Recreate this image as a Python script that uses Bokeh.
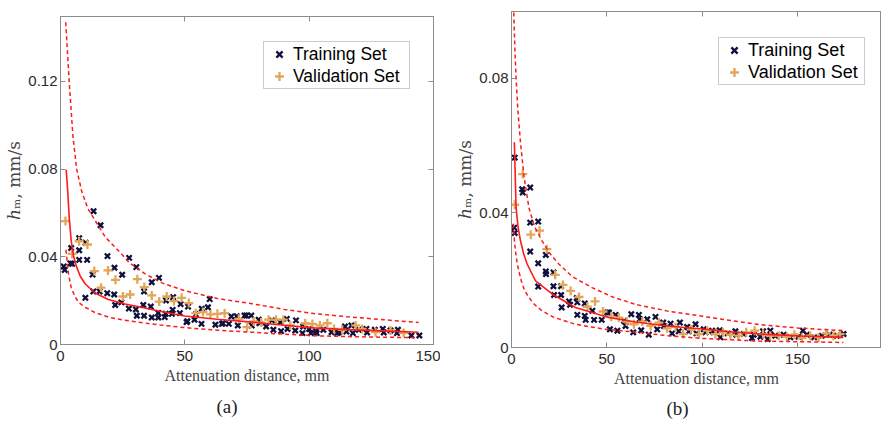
from bokeh.plotting import figure
from bokeh.layouts import row, column
from bokeh.models import LinearAxis, FixedTicker, Range1d, Legend, LegendItem, Title
from bokeh.embed import file_html
from bokeh.resources import INLINE

# ---------------- Panel (a) data ----------------
a_train_x = [1.3, 1.7, 4.3, 4.7, 4.0, 7.5, 7.5, 7.5, 10.1, 10.7, 10.0, 13.3, 12.9, 13.2, 16.1, 15.7,
             18.9, 18.8, 21.7, 21.6, 22.0, 24.8, 24.5, 27.6, 27.5, 30.5, 30.3, 30.7, 33.6, 33.3, 33.6,
             36.7, 36.3, 36.7, 39.6, 39.3, 39.3, 42.4, 42.3, 41.9, 45.3, 45.1, 44.8, 48.3, 48.0, 50.7,
             51.0, 51.3, 53.9, 54.4, 56.8, 56.7, 59.3, 60.0, 62.3, 64.9, 65.3, 67.7, 68.7, 70.9, 71.3,
             74.0, 74.7, 76.7, 76.9, 79.7, 80.0, 82.7, 85.0, 85.6, 88.4, 88.7, 91.0, 91.3, 94.7, 94.4,
             97.3, 97.6, 100.0, 100.7, 102.7, 103.0, 105.7, 109.0, 111.3, 112.0, 114.4, 115.0, 117.6,
             117.0, 120.0, 123.0, 123.3, 126.4, 129.6, 130.0, 132.7, 135.7, 135.3, 141.1, 144.3]
a_train_y = [0.0356, 0.034, 0.044, 0.0368, 0.037, 0.0485, 0.043, 0.0386, 0.0464, 0.0386, 0.0213,
             0.0608, 0.0319, 0.0242, 0.0544, 0.0242, 0.0403, 0.0234, 0.035, 0.0228, 0.018, 0.0318,
             0.0192, 0.0395, 0.0164, 0.0353, 0.016, 0.0131, 0.0242, 0.018, 0.0131, 0.0284, 0.0173,
             0.0123, 0.0304, 0.0144, 0.0123, 0.0201, 0.014, 0.0125, 0.0216, 0.0158, 0.014, 0.0184,
             0.0143, 0.0102, 0.0106, 0.0173, 0.0113, 0.0137, 0.0163, 0.0094, 0.017, 0.0207, 0.009,
             0.0094, 0.0097, 0.0094, 0.0128, 0.0129, 0.0087, 0.0132, 0.0132, 0.0132, 0.0087, 0.0113,
             0.0097, 0.0082, 0.011, 0.0067, 0.0102, 0.0061, 0.0117, 0.0071, 0.011, 0.0064, 0.0052,
             0.0082, 0.0071, 0.0052, 0.0061, 0.0052, 0.0067, 0.0056, 0.0052, 0.0056, 0.0082, 0.0059,
             0.0052, 0.0087, 0.0067, 0.0071, 0.0055, 0.0067, 0.0071, 0.0055, 0.0064, 0.0067, 0.0052,
             0.0041, 0.0041]
a_val_x = [2.0, 4.7, 7.5, 10.8, 13.6, 16.3, 19.1, 22.1, 25.1, 28.0, 30.9, 33.7, 36.7, 39.7, 42.7,
           45.6, 48.7, 51.6, 54.4, 57.3, 60.3, 63.1, 66.0, 71.7, 75.0, 77.7, 80.7, 83.7, 86.7, 89.6,
           92.4, 98.4, 101.3, 104.3, 107.3, 110.0, 113.3, 118.7, 121.3, 126.7, 132.7, 138.0]
a_val_y = [0.0563, 0.0414, 0.0471, 0.0456, 0.0335, 0.0259, 0.0338, 0.0295, 0.0219, 0.0228, 0.0298,
           0.0262, 0.0224, 0.0196, 0.0219, 0.0198, 0.0213, 0.0189, 0.0143, 0.0148, 0.0137, 0.014,
           0.0143, 0.0117, 0.0079, 0.0105, 0.01, 0.0113, 0.0113, 0.0113, 0.0087, 0.0097, 0.0094,
           0.0087, 0.0097, 0.0071, 0.0067, 0.0087, 0.0071, 0.0056, 0.0064, 0.0052]
a_fit_x = [2.3, 2.9, 3.5, 4.3, 5.3, 6.5, 8.0, 9.9, 13.9, 19.2, 26.0, 32.5, 40.0, 50.0, 63.0, 77.0,
           90.0, 102.0, 115.0, 130.0, 144.0]
a_fit_y = [0.0797, 0.070, 0.058, 0.0474, 0.040, 0.0353, 0.031, 0.0277, 0.0235, 0.0205, 0.0185,
           0.0170, 0.0152, 0.0130, 0.0115, 0.0102, 0.0088, 0.0076, 0.0068, 0.0062, 0.0056]
a_up_x = [2.1, 3.5, 5.0, 6.5, 8.5, 11.0, 13.9, 18.0, 23.2, 28.0, 33.9, 41.0, 50.0, 63.0, 77.0, 90.0,
          102.0, 115.0, 130.0, 144.0]
a_up_y = [0.147, 0.1197, 0.095, 0.080, 0.070, 0.062, 0.0566, 0.049, 0.0429, 0.037, 0.0323, 0.028,
          0.0245, 0.021, 0.0186, 0.016, 0.0141, 0.0127, 0.0113, 0.010]
a_lo_x = [2.2, 3.2, 4.3, 5.9, 7.5, 9.9, 14.0, 19.2, 25.0, 32.5, 40.0, 50.0, 63.0, 77.0, 90.0, 102.0,
          120.0, 144.0]
a_lo_y = [0.0432, 0.0323, 0.026, 0.0216, 0.019, 0.017, 0.0145, 0.0125, 0.0112, 0.0100, 0.0089,
          0.0077, 0.0065, 0.0056, 0.0047, 0.0040, 0.0035, 0.0031]

# ---------------- Panel (b) data ----------------
b_train_x = [1.7, 1.4, 1.7, 5.6, 5.9, 9.8, 9.8, 9.8, 14.0, 14.0, 14.0, 18.0, 18.0, 18.1, 22.0, 22.0,
             22.3, 26.0, 26.0, 26.3, 30.2, 30.7, 34.2, 34.5, 34.5, 38.4, 38.4, 38.9, 42.4, 43.3, 47.3,
             50.2, 51.1, 51.6, 54.6, 55.5, 59.0, 59.8, 62.8, 63.8, 66.8, 67.3, 68.0, 71.2, 72.0, 75.5,
             76.4, 79.5, 79.9, 83.4, 84.2, 88.3, 87.7, 92.1, 93.0, 96.5, 97.0, 100.8, 101.7, 105.2,
             106.0, 109.2, 109.5, 113.4, 117.4, 117.9, 121.8, 126.1, 127.0, 130.5, 131.9, 134.3,
             135.7, 138.3, 142.7, 146.2, 150.5, 152.8, 154.9, 158.7, 162.7, 166.8, 170.6, 174.1]
b_train_y = [0.0564, 0.0356, 0.034, 0.047, 0.046, 0.0475, 0.0371, 0.0285, 0.0374, 0.025, 0.0181,
             0.0275, 0.0226, 0.0218, 0.0223, 0.0182, 0.0156, 0.0182, 0.0156, 0.0119, 0.0137, 0.0127,
             0.0147, 0.0134, 0.0097, 0.0131, 0.0094, 0.0082, 0.0109, 0.0082, 0.0082, 0.0104, 0.0104,
             0.0054, 0.0097, 0.005, 0.0079, 0.0064, 0.0099, 0.0045, 0.0097, 0.0084, 0.0051, 0.0084,
             0.0038, 0.0091, 0.0054, 0.0074, 0.0064, 0.0071, 0.0042, 0.0074, 0.0048, 0.0061, 0.0048,
             0.0069, 0.0042, 0.0054, 0.0045, 0.005, 0.0045, 0.0051, 0.003, 0.0042, 0.0048, 0.0038,
             0.004, 0.0028, 0.0038, 0.0032, 0.0048, 0.0025, 0.005, 0.0035, 0.0038, 0.003, 0.0032,
             0.005, 0.0038, 0.003, 0.0035, 0.0038, 0.0035, 0.004]
b_val_x = [1.7, 5.9, 10.1, 14.7, 18.5, 22.9, 27.0, 31.0, 35.4, 39.8, 43.8, 48.0, 52.3, 56.3, 60.4,
           64.2, 68.6, 73.0, 77.3, 81.6, 86.0, 90.0, 94.2, 98.2, 102.6, 106.9, 110.9, 114.8, 119.1,
           123.1, 127.5, 131.9, 135.7, 140.1, 144.4, 148.3, 152.3, 156.6, 161.0, 165.0, 168.8, 172.3]
b_val_y = [0.0424, 0.0515, 0.0335, 0.0347, 0.0292, 0.0216, 0.0186, 0.0168, 0.015, 0.0121, 0.0137,
           0.0107, 0.0091, 0.0089, 0.0077, 0.0069, 0.0077, 0.0064, 0.0074, 0.0057, 0.0061, 0.004,
           0.0054, 0.004, 0.005, 0.004, 0.0045, 0.0038, 0.0035, 0.0045, 0.005, 0.004, 0.0035,
           0.0035, 0.0032, 0.0038, 0.0028, 0.0035, 0.003, 0.0042, 0.0035, 0.004]
b_fit_x = [1.5, 2.0, 2.4, 3.4, 4.7, 6.3, 8.2, 12.6, 21.3, 33.5, 50.9, 65.8, 82.0, 100.0, 116.0,
           133.0, 152.0, 174.0]
b_fit_y = [0.061, 0.050, 0.0416, 0.036, 0.0317, 0.028, 0.0248, 0.0198, 0.0159, 0.0119, 0.0089,
           0.0075, 0.0064, 0.0055, 0.0046, 0.0039, 0.0034, 0.0030]
b_up_x = [1.2, 1.7, 2.4, 3.4, 4.7, 6.5, 9.1, 12.0, 16.0, 20.0, 24.8, 32.0, 42.2, 53.0, 65.8, 82.0,
          100.0, 115.0, 130.0, 150.0, 174.0]
b_up_y = [0.0995, 0.090, 0.080, 0.070, 0.061, 0.051, 0.0416, 0.036, 0.0317, 0.028, 0.0248, 0.021,
          0.0178, 0.015, 0.0127, 0.0108, 0.0093, 0.0080, 0.0068, 0.0058, 0.0050]
b_lo_x = [1.0, 1.5, 2.2, 3.0, 3.8, 5.5, 7.0, 9.1, 12.0, 16.0, 22.0, 33.5, 48.0, 65.8, 82.0, 100.0,
          130.0, 174.0]
b_lo_y = [0.0368, 0.032, 0.028, 0.025, 0.0228, 0.019, 0.0168, 0.0149, 0.0128, 0.0109, 0.0090,
          0.0069, 0.0055, 0.0045, 0.0035, 0.0027, 0.0019, 0.0015]

x_ticks = [0, 50, 100, 150]
x_tick_labels = ["0", "50", "100", "150"]
a_y_ticks = [0, 0.04, 0.08, 0.12]
a_y_tick_labels = ["0", "0.04", "0.08", "0.12"]
b_y_ticks = [0, 0.04, 0.08]
b_y_tick_labels = ["0", "0.04", "0.08"]

x_title = "Attenuation distance, mm"
y_title = "\u210e\u2098, mm/s"
series_names = ["Training Set", "Validation Set"]
captions = ["(a)", "(b)"]

NAVY = "#10103f"
ORANGE = "#e2a65a"
RED = "#ff1a1a"
FRAME = "#8c8c8c"
TICKTXT = "#2b2b2b"


def frame_axis(ticks):
    return LinearAxis(ticker=FixedTicker(ticks=ticks), major_label_text_font_size="1px",
                      major_label_text_color=None, major_tick_in=5, major_tick_out=0,
                      axis_line_color=FRAME, major_tick_line_color=FRAME,
                      minor_tick_line_color=None, major_label_standoff=0,
                      axis_label=None, axis_label_standoff=0)


def make_panel(width, height, borders, xr, yr, y_ticks, y_labels, data, caption, cap_offset,
               cap_standoff, legend_loc, legend_font, right_axis):
    bl, br, bt, bb = borders
    p = figure(width=width, height=height, output_backend="svg", toolbar_location=None,
               x_range=Range1d(*xr), y_range=Range1d(*yr),
               min_border_left=bl, min_border_right=br, min_border_top=bt, min_border_bottom=bb)
    p.grid.visible = False
    p.outline_line_color = FRAME
    p.background_fill_color = "white"
    p.border_fill_color = "white"

    xlab = dict(zip(x_ticks, x_tick_labels))
    ylab = dict(zip(y_ticks, y_labels))
    for ax in (p.xaxis[0], p.yaxis[0]):
        ax.axis_line_color = FRAME
        ax.major_tick_line_color = FRAME
        ax.major_tick_in = 5
        ax.major_tick_out = 0
        ax.minor_tick_line_color = None
        ax.major_label_text_font = "Liberation Sans"
        ax.major_label_text_font_size = "15px"
        ax.major_label_text_color = TICKTXT
        ax.axis_label_text_font = "Liberation Serif"
        ax.axis_label_text_font_size = "16px"
        ax.axis_label_text_font_style = "normal"
        ax.axis_label_text_color = "#444444"
    p.xaxis.ticker = FixedTicker(ticks=x_ticks)
    p.xaxis.major_label_overrides = xlab
    p.yaxis.ticker = FixedTicker(ticks=y_ticks)
    p.yaxis.major_label_overrides = ylab
    p.xaxis.axis_label = x_title
    p.yaxis.axis_label = y_title
    p.yaxis.axis_label_text_font = "DejaVu Serif"
    p.yaxis.axis_label_text_font_size = "17px"
    p.xaxis.major_label_standoff = 6
    p.xaxis.axis_label_standoff = 3
    p.yaxis.major_label_standoff = 3
    p.yaxis.axis_label_standoff = 1

    p.add_layout(frame_axis(x_ticks), "above")
    if right_axis:
        p.add_layout(frame_axis(y_ticks), "right")

    tx, ty, vx, vy, fx, fy, ux, uy, lx, ly = data
    r_train = p.scatter(tx, ty, marker="x", size=7.5, line_width=2.3, color=NAVY)
    r_val = p.scatter(vx, vy, marker="cross", size=9, line_width=2.3, color=ORANGE)
    p.line(fx, fy, line_color=RED, line_width=1.6)
    p.line(ux, uy, line_color=RED, line_width=1.5, line_dash="4 3")
    p.line(lx, ly, line_color=RED, line_width=1.5, line_dash="4 3")

    leg = Legend(items=[LegendItem(label=series_names[0], renderers=[r_train]),
                        LegendItem(label=series_names[1], renderers=[r_val])],
                 location=legend_loc, padding=1, spacing=0, margin=0,
                 glyph_width=28, glyph_height=22, label_height=22, label_standoff=0,
                 label_width=115, label_text_font="Liberation Sans",
                 label_text_font_size=legend_font, label_text_color="black",
                 border_line_color="#9a9a9a", border_line_width=1,
                 background_fill_color="white", background_fill_alpha=1.0)
    p.add_layout(leg, "center")

    cap = Title(text=caption, align="left", offset=cap_offset, text_font="Liberation Serif",
                text_font_size="19px", text_font_style="normal", text_color="#222222",
                standoff=cap_standoff)
    p.add_layout(cap, "below")
    return p


p1 = make_panel(440, 425, (60, 7, 16, 81), (0, 150), (0, 0.1496), a_y_ticks, a_y_tick_labels,
                (a_train_x, a_train_y, a_val_x, a_val_y, a_fit_x, a_fit_y, a_up_x, a_up_y,
                 a_lo_x, a_lo_y), captions[0], 156, 14, (203, 255), "17.5px", True)
p2 = make_panel(441, 425, (71, 0, 11, 78), (0, 194), (0, 0.0998), b_y_ticks, b_y_tick_labels,
                (b_train_x, b_train_y, b_val_x, b_val_y, b_fit_x, b_fit_y, b_up_x, b_up_y,
                 b_lo_x, b_lo_y), captions[1], 155, 12, (207, 262), "18px", False)

layout = row(column(p1), column(p2), spacing=0)
open("out.html", "w").write(file_html(layout, INLINE))
